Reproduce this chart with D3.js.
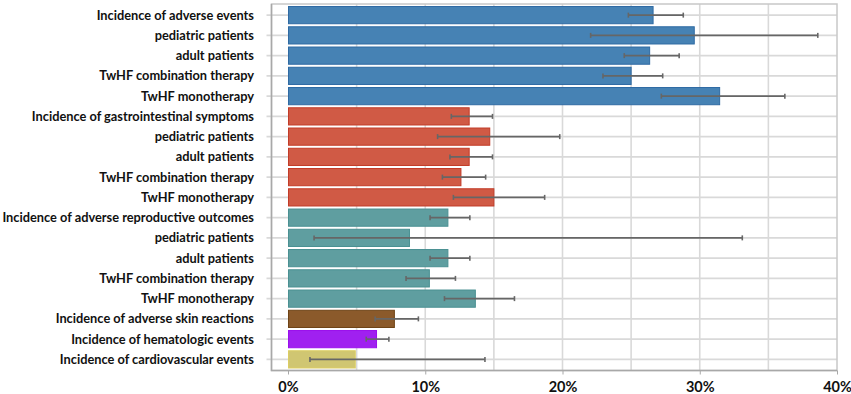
<!DOCTYPE html>
<html>
<head>
<meta charset="utf-8">
<script src="https://cdn.jsdelivr.net/npm/d3@7"></script>
<style>
  body { margin: 0; background: #fff; }
  svg text { font-family: Lato, "Open Sans", sans-serif; font-weight: bold; fill: #111; }
</style>
</head>
<body>
<script>
// rows from top to bottom
const labels = [
  'Incidence of adverse events', 'pediatric patients', 'adult patients',
  'TwHF combination therapy', 'TwHF monotherapy',
  'Incidence of gastrointestinal symptoms', 'pediatric patients', 'adult patients',
  'TwHF combination therapy', 'TwHF monotherapy',
  'Incidence of adverse reproductive outcomes', 'pediatric patients', 'adult patients',
  'TwHF combination therapy', 'TwHF monotherapy',
  'Incidence of adverse skin reactions', 'Incidence of hematologic events',
  'Incidence of cardiovascular events'
];
const groups = ['ae', 'ae', 'ae', 'ae', 'ae', 'gi', 'gi', 'gi', 'gi', 'gi',
  'rep', 'rep', 'rep', 'rep', 'rep', 'skin', 'hem', 'cv'];
const rates = [26.6, 29.6, 26.35, 25.0, 31.45, 13.2, 14.7, 13.2, 12.6, 15.0,
  11.65, 8.85, 11.65, 10.3, 13.65, 7.75, 6.45, 4.9];
const lower = [24.8, 22.05, 24.5, 22.95, 27.2, 11.9, 10.9, 11.8, 11.25, 12.05,
  10.35, 1.9, 10.35, 8.6, 11.4, 6.35, 5.7, 1.6];
const upper = [28.8, 38.6, 28.5, 27.3, 36.2, 14.9, 19.8, 14.9, 14.4, 18.7,
  13.25, 33.1, 13.25, 12.2, 16.5, 9.5, 7.35, 14.35];
const xTicks = [0, 10, 20, 30, 40];

const fills = { ae: '#4682b4', gi: '#d05a45', rep: '#5f9ea0', skin: '#8b5a2b', hem: '#a020f0', cv: '#d0c672' };
const strokes = { ae: '#2f6aa3', gi: '#c23b27', rep: '#4a9092', skin: '#6e4315', hem: '#9a10ec', cv: '#dccd62' };

const rows = labels.map((l, i) => ({ i, label: l, g: groups[i], v: rates[i], lo: lower[i], hi: upper[i] }));

const width = 851, height = 394;
const box = { left: 271.5, right: 837, top: 4, bottom: 370.5 };

const svg = d3.select('body').append('svg')
  .attr('width', width)
  .attr('height', height);

const x = d3.scaleLinear().domain([0, 40]).range([288, 837]);
const y = d3.scaleBand().domain(rows.map(d => d.i)).range([5, 369.5]).paddingInner(0.15).paddingOuter(0.075);

// vertical grid every 5%
svg.append('g')
  .selectAll('line')
  .data(d3.range(5, 40, 5))
  .enter().append('line')
  .attr('x1', d => x(d)).attr('x2', d => x(d))
  .attr('y1', box.top).attr('y2', box.bottom)
  .attr('stroke', '#d9d9d9').attr('stroke-width', 1.6);

// horizontal grid at row centres
svg.append('g')
  .selectAll('line')
  .data(rows)
  .enter().append('line')
  .attr('x1', box.left - 5).attr('x2', box.right)
  .attr('y1', d => y(d.i) + y.bandwidth() / 2)
  .attr('y2', d => y(d.i) + y.bandwidth() / 2)
  .attr('stroke', '#d9d9d9').attr('stroke-width', 1.6);

// plot frame
svg.append('rect')
  .attr('x', box.left).attr('y', box.top)
  .attr('width', box.right - box.left).attr('height', box.bottom - box.top)
  .attr('fill', 'none').attr('stroke', '#c8c8c8').attr('stroke-width', 1.5);
svg.append('path')
  .attr('d', `M${box.left},${box.top}V${box.bottom}H${box.right}`)
  .attr('fill', 'none').attr('stroke', '#a8a8a8').attr('stroke-width', 1.5);

// bars
svg.append('g')
  .selectAll('rect')
  .data(rows)
  .enter().append('rect')
  .attr('x', x(0) + 0.5)
  .attr('y', d => y(d.i))
  .attr('width', d => x(d.v) - x(0) - 0.5)
  .attr('height', y.bandwidth())
  .attr('fill', d => fills[d.g])
  .attr('stroke', d => strokes[d.g])
  .attr('stroke-width', 1);

// error bars
const err = svg.append('g').attr('stroke', '#666').attr('stroke-width', 1.6);
rows.forEach(d => {
  const cy = y(d.i) + y.bandwidth() / 2;
  err.append('line').attr('x1', x(d.lo)).attr('x2', x(d.hi)).attr('y1', cy).attr('y2', cy);
  err.append('line').attr('x1', x(d.lo)).attr('x2', x(d.lo)).attr('y1', cy - 2.5).attr('y2', cy + 2.5);
  err.append('line').attr('x1', x(d.hi)).attr('x2', x(d.hi)).attr('y1', cy - 2.5).attr('y2', cy + 2.5);
});

// category labels
svg.append('g')
  .selectAll('text')
  .data(rows)
  .enter().append('text')
  .attr('x', 254)
  .attr('y', d => y(d.i) + y.bandwidth() / 2)
  .attr('dy', '0.36em')
  .attr('text-anchor', 'end')
  .style('font-size', '12.8px')
  .text(d => d.label);

// x axis
const xAxis = d3.axisBottom(x)
  .tickValues(xTicks)
  .tickFormat(d => d + '%')
  .tickSize(4)
  .tickPadding(7);

const gx = svg.append('g')
  .attr('transform', `translate(0, ${box.bottom})`)
  .call(xAxis);
gx.select('.domain').remove();
gx.selectAll('line').attr('stroke', '#a8a8a8');
gx.selectAll('text').style('font-size', '14.5px');
</script>
</body>
</html>
